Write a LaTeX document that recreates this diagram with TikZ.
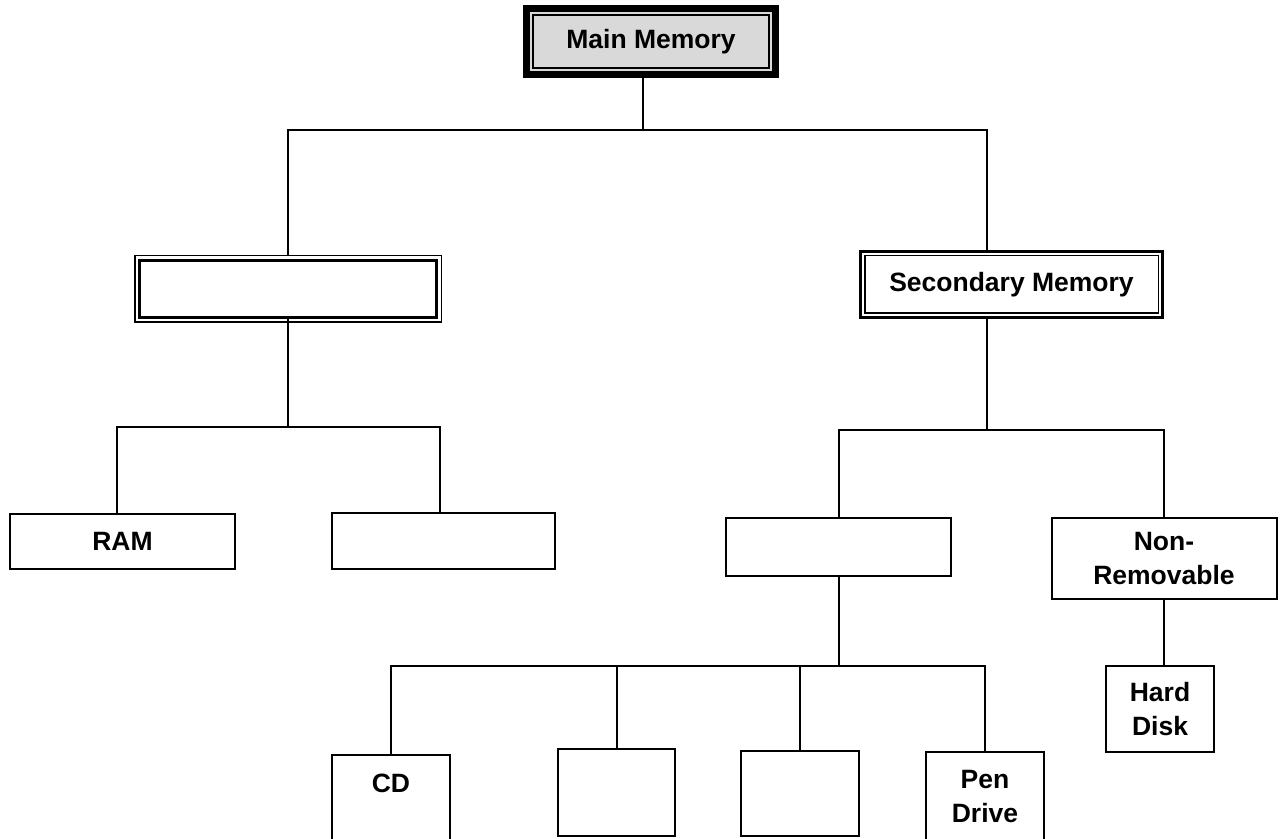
\documentclass[tikz,border=0pt]{standalone}
\usepackage{fontspec}
\setmainfont{Liberation Sans}
\usetikzlibrary{positioning}
\definecolor{boxgray}{gray}{0.85}
\tikzset{
	block/.style={
		rectangle,
		draw,
		line width=1pt,
		inner sep=0pt,
		align=center,
		font=\bfseries\fontsize{13.25}{17}\selectfont
	},
	topblock/.style={
		block,
		line width=3.5pt,
		fill=boxgray
	},
	thinthick/.style={
		block,
		line width=0.75pt
	},
	thickthin/.style={
		block,
		line width=1.35pt
	},
	tree/.style={
		line width=1pt
	},
}

\begin{document}
\begin{tikzpicture}[x=0.5pt,y=-0.5pt]
	\useasboundingbox (0,0) rectangle (1280,839);
	% top level
	\node[topblock,minimum width=124.5pt,minimum height=33pt] (main) at (651,41.5) {Main Memory};
	\draw[line width=1pt] ([shift={(10,10)}]main.north west) rectangle ([shift={(-10,-10)}]main.south east);
	% second level
	\node[thinthick,minimum width=153.25pt,minimum height=33.25pt] (pri) at (288,289) {};
	\draw[line width=1.5pt] ([shift={(5.5,5.5)}]pri.north west) rectangle ([shift={(-5.5,-5.5)}]pri.south east);
	\node[thickthin,minimum width=151.15pt,minimum height=33.15pt] (sec) at (1011.5,284.5) {Secondary Memory};
	\draw[line width=0.75pt] ([shift={(5.75,5.75)}]sec.north west) rectangle ([shift={(-5.75,-5.75)}]sec.south east);
	% third level
	\node[block,minimum width=112.5pt,minimum height=27.5pt] (ram) at (122.5,541.5) {RAM};
	\node[block,minimum width=111.5pt,minimum height=28pt] (prim2) at (443.5,541) {};
	\node[block,minimum width=112.5pt,minimum height=29pt] (rem) at (838.5,547) {};
	\node[block,minimum width=112.5pt,minimum height=40.5pt] (nonrem) at (1164,558.5) {Non-\\Removable};
	% fourth level
	\node[block,minimum width=59pt,minimum height=45pt] (cd) at (391,800) {CD\\\mbox{}};
	\node[block,minimum width=58.5pt,minimum height=43.5pt] (opt2) at (616.5,792.5) {};
	\node[block,minimum width=59pt,minimum height=42.5pt] (opt3) at (800,793.5) {};
	\node[block,minimum width=59pt,minimum height=45pt] (pen) at (985,797) {Pen\\Drive};
	\node[block,minimum width=54pt,minimum height=43pt] (hd) at (1160,709) {Hard\\Disk};

	\draw[tree] ([xshift=-4pt]main.south) -- ++(0,52) coordinate (mainbus);
	\draw[tree] (pri.north) |- (mainbus) -| ([xshift=-12.25pt]sec.north);
	\draw[tree] ([yshift=2.75pt]pri.south) -- ++(0,109.5) coordinate (pribus);
	\draw[tree] ([xshift=-3pt]ram.north) |- (pribus) -| ([xshift=-2pt]prim2.north);
	\draw[tree] ([xshift=-12.25pt]sec.south) -- ++(0,111) coordinate (secbus);
	\draw[tree] (rem.north) |- (secbus) -| (nonrem.north);
	\draw[tree] (rem.south) -- ++(0,89) coordinate (rembus);
	\draw[tree] (cd.north) |- (rembus) -| (pen.north);
	\draw[tree] (opt2.north) -- (opt2.north |- rembus);
	\draw[tree] (opt3.north) -- (opt3.north |- rembus);
	\draw[tree] (nonrem.south) -- (nonrem.south |- hd.north);
\end{tikzpicture}
\end{document}
